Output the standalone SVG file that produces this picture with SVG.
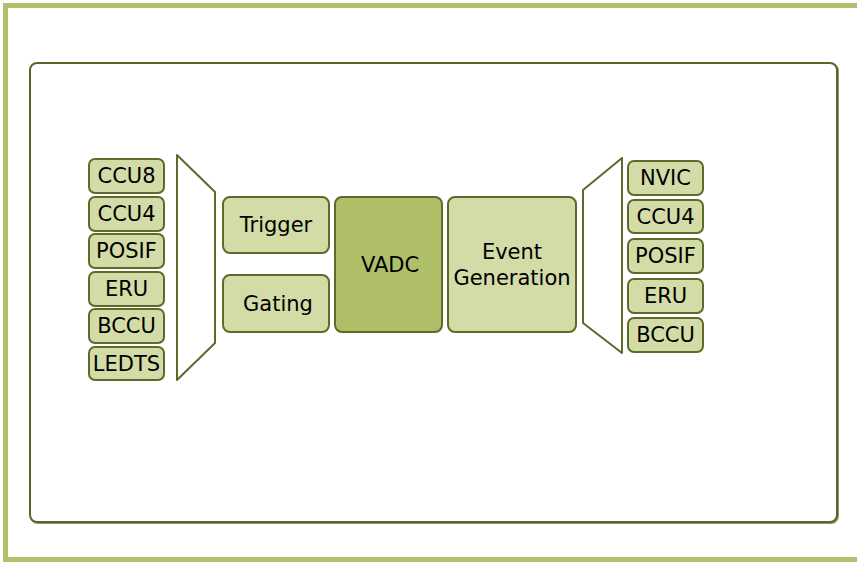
<svg xmlns="http://www.w3.org/2000/svg" width="857" height="562" viewBox="0 0 857 562">
<style>
.box{fill:#d3dca6;stroke:#5d6a2a;stroke-width:2}
.core{fill:#aebf68;stroke:#5d6a2a;stroke-width:2}
.mux{fill:#ffffff;stroke:#5d6a2a;stroke-width:2;stroke-linejoin:round}
text{font-family:"DejaVu Sans",Verdana,sans-serif;font-size:21px;fill:#000;text-anchor:middle;dominant-baseline:central}
</style>
<rect x="0" y="0" width="857" height="562" fill="#ffffff"/>
<rect id="frame" x="5.5" y="5.5" width="860" height="554" fill="none" stroke="#afc16a" stroke-width="5"/>
<rect id="module-shadow" x="31" y="64" width="807" height="459" rx="7" fill="none" stroke="#8e9470" stroke-width="2"/>
<rect id="module" x="30" y="63" width="807" height="459" rx="7" fill="#ffffff" stroke="#5a6529" stroke-width="2"/>
<g id="connectors">
<polygon id="mux-in" class="mux" points="177,155 215,192 215,343 177,380"/>
<polygon id="mux-out" class="mux" points="583,190 622,158 622,353 583,323"/>
</g>
<g id="in-ccu8"><rect class="box" x="89" y="159" width="75" height="34" rx="6"/><text x="126.5" y="176">CCU8</text></g>
<g id="in-ccu4"><rect class="box" x="89" y="197" width="75" height="34" rx="6"/><text x="126.5" y="214">CCU4</text></g>
<g id="in-posif"><rect class="box" x="89" y="234" width="75" height="34" rx="6"/><text x="126.5" y="251">POSIF</text></g>
<g id="in-eru"><rect class="box" x="89" y="272" width="75" height="34" rx="6"/><text x="126.5" y="289">ERU</text></g>
<g id="in-bccu"><rect class="box" x="89" y="309" width="75" height="34" rx="6"/><text x="126.5" y="326">BCCU</text></g>
<g id="in-ledts"><rect class="box" x="89" y="347" width="75" height="33" rx="6"/><text x="126.5" y="363.5">LEDTS</text></g>
<g id="trigger"><rect class="box" x="223" y="197" width="106" height="56" rx="7"/><text x="276" y="225">Trigger</text></g>
<g id="gating"><rect class="box" x="223" y="275" width="106" height="57" rx="7"/><text x="278" y="304">Gating</text></g>
<g id="vadc"><rect class="core" x="335" y="197" width="107" height="135" rx="7"/><text x="390" y="265">VADC</text></g>
<g id="event-generation"><rect class="box" x="448" y="197" width="128" height="135" rx="7"/><text x="512" y="252">Event</text><text x="512" y="278">Generation</text></g>
<g id="out-nvic"><rect class="box" x="628" y="161" width="75" height="34" rx="6"/><text x="665.5" y="178">NVIC</text></g>
<g id="out-ccu4"><rect class="box" x="628" y="200" width="75" height="33" rx="6"/><text x="665.5" y="216.5">CCU4</text></g>
<g id="out-posif"><rect class="box" x="628" y="239" width="75" height="34" rx="6"/><text x="665.5" y="256">POSIF</text></g>
<g id="out-eru"><rect class="box" x="628" y="279" width="75" height="34" rx="6"/><text x="665.5" y="296">ERU</text></g>
<g id="out-bccu"><rect class="box" x="628" y="318" width="75" height="34" rx="6"/><text x="665.5" y="335">BCCU</text></g>
</svg>
